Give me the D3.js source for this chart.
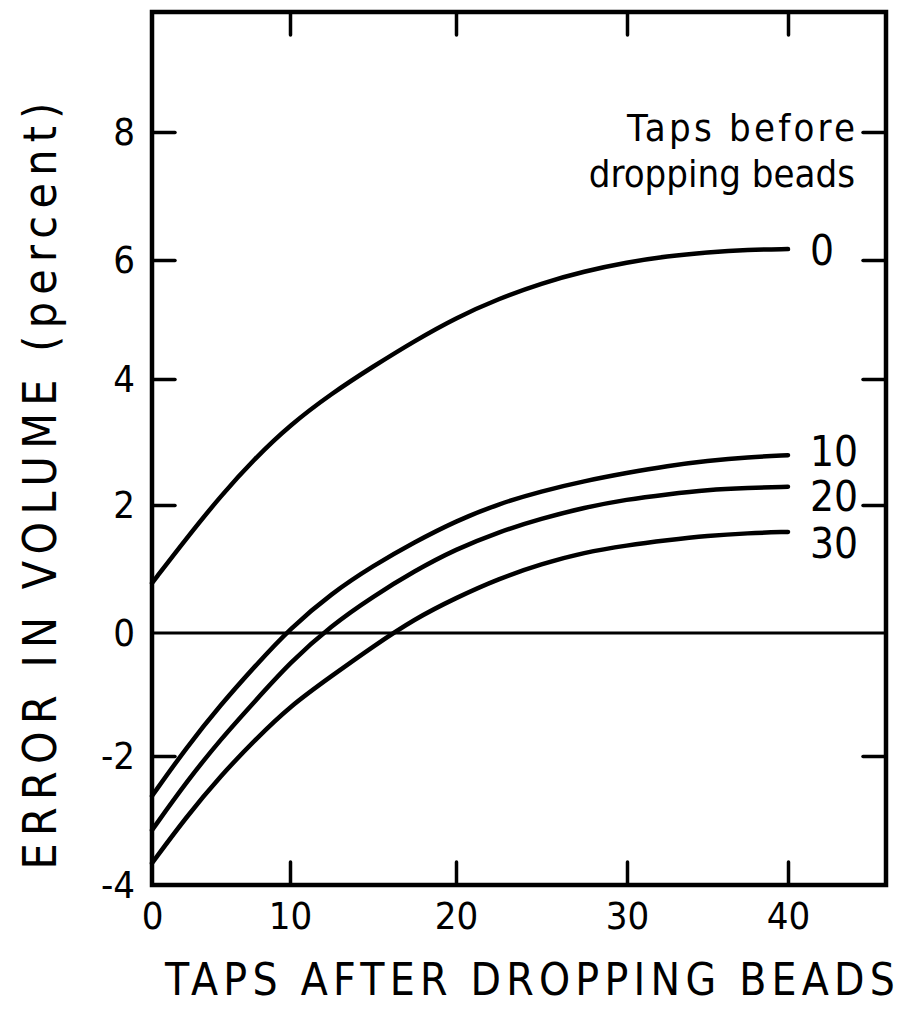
<!DOCTYPE html>
<html><head><meta charset="utf-8">
<script src="https://cdn.jsdelivr.net/npm/d3@7"></script>
<style>body{margin:0;background:#fff}svg{display:block}</style>
</head><body>
<svg id="chart" width="904" height="1009"></svg>
<script>
// ---- data ----
const tapsAfter = [0,2.5,5,7.5,10,12.5,15,17.5,20,22.5,25,27.5,30,32.5,35,37.5,40];
const seriesNames = ["0","10","20","30"];
const err0  = [0.78,1.48,2.15,2.75,3.27,3.77,4.21,4.64,5.03,5.35,5.61,5.81,5.96,6.06,6.12,6.16,6.17];
const err10 = [-2.62,-1.86,-1.16,-0.53,0.07,0.62,1.05,1.42,1.75,2.02,2.22,2.38,2.51,2.62,2.70,2.76,2.79];
const err20 = [-3.15,-2.40,-1.72,-1.10,-0.48,0.12,0.57,0.97,1.31,1.58,1.79,1.96,2.09,2.17,2.24,2.27,2.29];
const err30 = [-3.66,-2.94,-2.30,-1.73,-1.19,-0.70,-0.22,0.22,0.55,0.85,1.08,1.26,1.37,1.45,1.52,1.56,1.58];
const xTickLabels = [0,10,20,30,40];
const xTickMarks = [10,20,30,40];
const yTickLabels = [-4,-2,0,2,4,6,8];
const yRightTicks = [-2,2,4,6,8];
const legendTitle = ["Taps before","dropping beads"];
const xTitle = "TAPS AFTER DROPPING BEADS";
const yTitle = "ERROR IN VOLUME (percent)";

// ---- layout ----
const FONT = '"DejaVu Sans Condensed", "DejaVu Sans", sans-serif';
const svg = d3.select("#chart");

// hand-drawn axis: piecewise-linear scales follow the drawn tick positions
const x = d3.scaleLinear().domain([0,10,20,30,40,46.1]).range([152,290,456,627,788,886]);
const y = d3.scaleLinear().domain([-4,-2,0,2,4,6,8,9.87]).range([885,756,633,505,379,260,132,12]);

const x0 = x(0), x1 = x(46.1), yTop = y(9.87), yBot = y(-4);
const TICK = 23;

// zero line
svg.append("line")
  .attr("x1", x0).attr("x2", x1).attr("y1", y(0)).attr("y2", y(0))
  .attr("stroke", "#000").attr("stroke-width", 3);

// axes
function styleAxis(g){
  g.select(".domain").remove();
  g.selectAll(".tick line").attr("stroke","#000").attr("stroke-width",3.5).attr("stroke-linecap","round");
  g.selectAll(".tick text").attr("fill","#000").style("font-family",FONT).style("font-size","38px");
}
svg.append("g").attr("transform",`translate(0,${yBot})`)
  .call(d3.axisBottom(x).tickValues(xTickLabels).tickSizeInner(-TICK).tickSizeOuter(0).tickPadding(17).tickFormat(d=>String(d)))
  .call(styleAxis)
  .call(g=>g.selectAll(".tick").filter(d=>!xTickMarks.includes(d)).select("line").remove());
svg.append("g").attr("transform",`translate(0,${yTop})`)
  .call(d3.axisTop(x).tickValues(xTickMarks).tickSizeInner(-TICK).tickSizeOuter(0).tickFormat(""))
  .call(styleAxis);
svg.append("g").attr("transform",`translate(${x0},0)`)
  .call(d3.axisLeft(y).tickValues(yTickLabels).tickSizeInner(-TICK).tickSizeOuter(0).tickPadding(17).tickFormat(d=>String(d)))
  .call(styleAxis)
  .call(g=>g.selectAll(".tick").filter(d=>d===-4||d===0).select("line").remove());
svg.append("g").attr("transform",`translate(${x1},0)`)
  .call(d3.axisRight(y).tickValues(yRightTicks).tickSizeInner(-TICK).tickSizeOuter(0).tickFormat(""))
  .call(styleAxis);

// frame
svg.append("rect")
  .attr("x", x0).attr("y", yTop).attr("width", x1-x0).attr("height", yBot-yTop)
  .attr("fill","none").attr("stroke","#000").attr("stroke-width",4.5);

// curves
const series = [err0, err10, err20, err30];
const line = d3.line().x((d,i)=>x(tapsAfter[i])).y(d=>y(d)).curve(d3.curveBasis);
svg.append("g").selectAll("path").data(series).join("path")
  .attr("d", line).attr("fill","none").attr("stroke","#000")
  .attr("stroke-width",4.5).attr("stroke-linecap","round");

// curve labels
const labelDy = [16, 11, 24, 26];
svg.append("g").selectAll("text").data(series).join("text")
  .attr("x", x(40)+22)
  .attr("y", (d,i)=>y(d[d.length-1])+labelDy[i])
  .text((d,i)=>seriesNames[i])
  .style("font-family",FONT).style("font-size","42px");

// legend title
const legendLen = [228, null];
svg.append("g").selectAll("text").data(legendTitle).join("text")
  .attr("x", 855).attr("y",(d,i)=>141+i*46)
  .attr("text-anchor","end")
  .attr("textLength",(d,i)=>legendLen[i])
  .attr("lengthAdjust","spacing")
  .text(d=>d)
  .style("font-family",FONT).style("font-size","38px");

// axis titles
svg.append("text")
  .attr("x", 530).attr("y", 995).attr("text-anchor","middle")
  .attr("textLength", 730).attr("lengthAdjust","spacing")
  .text(xTitle).style("font-family",FONT).style("font-size","44px");
svg.append("text")
  .attr("transform","translate(56,486) rotate(-90)").attr("text-anchor","middle")
  .attr("textLength", 767).attr("lengthAdjust","spacing")
  .text(yTitle).style("font-family",FONT).style("font-size","46px");
</script>
</body></html>
